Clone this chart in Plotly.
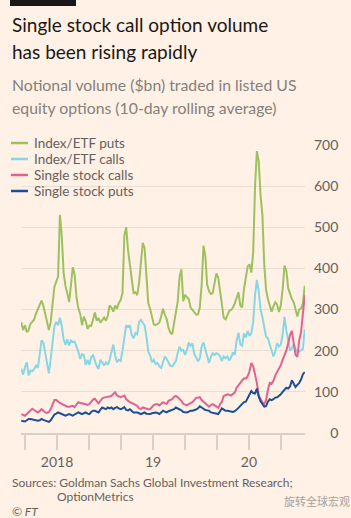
import pandas as pd
import plotly.graph_objects as go

# ---------------- data (weekly readings, $bn) ----------------
start_date = "2017-08-18"
n_weeks = 155

index_etf_puts = [
    269, 250, 262, 245, 250, 266, 270, 276, 290, 302, 312, 322, 310, 290, 270, 250, 270, 315, 355, 368,
    380, 530, 480, 390, 358, 340, 318, 360, 403, 385, 330, 303, 290, 262, 283, 272, 253, 261, 260, 276,
    293, 273, 279, 268, 275, 281, 273, 285, 310, 305, 295,
    310, 302, 316, 323, 340, 480, 500, 445, 410, 362, 340, 342, 335, 365, 425, 462, 450, 380, 315, 302,
    284, 264, 262, 265, 268, 283, 302, 288, 277, 256, 244, 240, 265, 292, 320, 380, 398, 320, 336, 330,
    325, 305, 300, 295, 288, 288, 305, 360, 455, 430, 360, 345,
    338, 340, 365, 388, 378, 345, 318, 280, 276, 289, 297, 299, 305, 315, 331, 342, 310, 305, 350, 380,
    405, 410, 390, 440, 600, 685, 660, 577, 530, 410, 348, 325, 312, 295, 308, 318, 312, 294, 310, 350,
    407, 395, 352, 336, 326, 318, 296, 283, 300, 303, 315, 358,
]

index_etf_calls = [
    156, 142, 160, 172, 140, 152, 150, 155, 164, 158, 190, 225, 220, 196, 175, 145, 180, 225, 260, 270,
    262, 280, 260, 228, 214, 228, 213, 225, 221, 222, 210, 198, 180, 192, 190, 166, 178, 166, 184, 190,
    176, 162, 156, 178, 172, 164, 172, 166, 178, 200, 215,
    188, 172, 178, 175, 200, 230, 262, 258, 262, 238, 230, 243, 240, 270, 275, 268, 262, 235, 198, 188,
    172, 178, 168, 170, 162, 158, 175, 186, 180, 172, 163, 162, 170, 175, 195, 210, 200, 202, 190, 202,
    220, 212, 218, 192, 184, 174, 182, 210, 220, 202, 183, 170,
    185, 194, 190, 194, 192, 186, 175, 186, 182, 186, 176, 184, 196, 190, 225, 244, 215, 212, 242, 232,
    248, 236, 243, 270, 335, 372, 345, 300, 282, 255, 234, 230, 215, 197, 186, 198, 218, 210, 215, 240,
    282, 250, 222, 200, 206, 216, 205, 196, 198, 202, 205, 252,
]

single_stock_calls = [
    46, 44, 42, 46, 50, 56, 59, 56, 53, 50, 53, 58, 54, 50, 49, 51, 58, 68, 80, 80,
    76, 73, 71, 68, 67, 64, 64, 66, 66, 63, 68, 75, 73, 71, 71, 70, 68, 70, 77, 81,
    83, 76, 72, 78, 84, 86, 87, 87, 89, 90, 95,
    99, 91, 88, 87, 89, 91, 82, 78, 75, 73, 71, 68, 66, 60, 58, 62, 60, 58, 58, 58,
    63, 68, 70, 70, 67, 72, 75, 72, 71, 78, 80, 82, 88, 90, 87, 83, 78, 71, 68, 67,
    70, 72, 75, 80, 85, 86, 87, 80, 76, 72, 66, 64,
    68, 70, 67, 64, 61, 70, 76, 90, 92, 94, 93, 91, 95, 98, 110, 115, 122, 128, 133, 132,
    138, 150, 170, 162, 145, 122, 92, 82, 74, 70, 80, 105, 122, 120, 127, 140, 148, 157, 165, 178,
    190, 200, 218, 238, 248, 215, 190, 185, 225, 245, 290, 335,
]

single_stock_puts = [
    30, 29, 28, 31, 34, 34, 33, 31, 30, 30, 31, 34, 32, 30, 28, 27, 31, 38, 45, 47,
    50, 48, 46, 44, 42, 44, 46, 44, 42, 45, 47, 50, 48, 46, 48, 50, 47, 46, 51, 54,
    54, 52, 50, 57, 62, 60, 58, 62, 60, 62, 58,
    61, 63, 60, 58, 60, 63, 56, 55, 58, 55, 50, 50, 50, 48, 46, 48, 50, 47, 46, 46,
    48, 50, 50, 49, 46, 50, 54, 52, 50, 53, 55, 56, 58, 62, 60, 58, 55, 51, 50, 50,
    52, 54, 54, 55, 57, 60, 65, 62, 58, 56, 55, 54,
    50, 49, 47, 46, 46, 53, 60, 57, 54, 54, 53, 51, 51, 53, 56, 61, 66, 72, 75, 76,
    84, 93, 102, 97, 96, 108, 88, 77, 69, 64, 65, 76, 82, 80, 82, 86, 87, 90, 94, 100,
    105, 110, 108, 113, 128, 120, 112, 117, 122, 130, 143, 148,
]

series_names = ["Index/ETF puts", "Index/ETF calls", "Single stock calls", "Single stock puts"]
series_values = [index_etf_puts, index_etf_calls, single_stock_calls, single_stock_puts]
series_colors = ["#9dc15e", "#86d7e6", "#e0628f", "#1d4e96"]

x_tick_vals = ["2017-09-01", "2018-01-01", "2018-05-01", "2018-09-01", "2019-01-01",
               "2019-05-01", "2019-09-01", "2020-01-01", "2020-05-01"]
x_tick_text = ["", "2018", "", "", "19", "", "", "20", ""]
y_tick_vals = [0, 100, 200, 300, 400, 500, 600, 700]
y_tick_text = ["\u2007\u20070", "100", "200", "300", "400", "500", "600", "700"]

dates = pd.date_range(start_date, periods=n_weeks, freq="7D")

# ---------------- layout helpers ----------------
W, H = 351, 518
L, R, T, B = 21, 46, 145, 85
PW, PH = W - L - R, H - T - B
BG = "#fff1e5"
FONT = "Lato"
GREY = "#66605c"


def fx(p):
    return (p - L) / PW


def fy(p):
    return (H - B - p) / PH


fig = go.Figure()
for name, vals, col in zip(series_names, series_values, series_colors):
    fig.add_trace(go.Scatter(x=dates, y=vals, mode="lines", name=name,
                             line=dict(color=col, width=2), showlegend=False))

annotations = [
    dict(text="Single stock call option volume", x=fx(10), y=fy(25), size=19, color="#1a1817"),
    dict(text="has been rising rapidly", x=fx(10), y=fy(52), size=19, color="#1a1817"),
    dict(text="Notional volume ($bn) traded in listed US", x=fx(10), y=fy(84), size=15.8, color="#86807b"),
    dict(text="equity options (10-day rolling average)", x=fx(10), y=fy(107), size=15.8, color="#86807b"),
    dict(text="Sources: Goldman Sachs Global Investment Research;", x=fx(10), y=fy(482), size=12, color=GREY),
    dict(text="OptionMetrics", x=fx(55), y=fy(496), size=12, color=GREY),
    dict(text="<i>© FT</i>", x=fx(10), y=fy(511), size=12, color=GREY),
]
ann_objs = []
for a in annotations:
    ann_objs.append(dict(text=a["text"], x=a["x"], y=a["y"], xref="paper", yref="paper",
                         xanchor="left", yanchor="middle", showarrow=False,
                         font=dict(family=FONT, size=a["size"], color=a["color"])))
ann_objs.append(dict(text="旋转全球宏观", x=fx(282), y=fy(501), xref="paper", yref="paper",
                     xanchor="left", yanchor="middle", showarrow=False,
                     font=dict(family="Noto Sans CJK SC", size=11, color="#a9a29b")))

shapes = [
    # FT black bar
    dict(type="rect", xref="paper", yref="paper", x0=fx(10), x1=fx(76), y0=fy(6), y1=fy(0),
         fillcolor="#1a1817", line=dict(width=0)),
    # legend area mask over gridlines
    dict(type="rect", xref="paper", yref="paper", x0=fx(19), x1=fx(170), y0=fy(200), y1=fy(138),
         fillcolor=BG, line=dict(width=0), layer="between"),
]

# legend keys (built from series names/colours)
legend_y = [143, 159, 175, 191]
for name, col, ly in zip(series_names, series_colors, legend_y):
    shapes.append(dict(type="line", xref="paper", yref="paper", x0=fx(11), x1=fx(28),
                       y0=fy(ly), y1=fy(ly), line=dict(color=col, width=2.5)))
    ann_objs.append(dict(text=name, x=fx(32), y=fy(ly), xref="paper", yref="paper",
                         xanchor="left", yanchor="middle", showarrow=False,
                         font=dict(family=FONT, size=13.5, color=GREY)))

fig.update_layout(
    width=W, height=H,
    margin=dict(l=L, r=R, t=T, b=B, autoexpand=False),
    paper_bgcolor=BG, plot_bgcolor=BG,
    font=dict(family=FONT, color=GREY),
    showlegend=False,
    annotations=ann_objs,
    shapes=shapes,
    xaxis=dict(range=["2017-08-17", "2020-08-01"], tickvals=x_tick_vals, ticktext=x_tick_text,
               showgrid=False, zeroline=False, showline=True, linecolor="#d8cfc6", linewidth=2,
               ticks="outside", ticklen=15, tickwidth=2, tickcolor="#d8cfc6",
               tickfont=dict(family=FONT, size=14, color=GREY), fixedrange=True),
    yaxis=dict(range=[0, 700], side="right", tickvals=y_tick_vals, ticktext=y_tick_text,
               showgrid=True, gridcolor="#e8ddd2", gridwidth=1.2, zeroline=False, showline=False,
               ticks="", ticklabelstandoff=8,
               tickfont=dict(family=FONT, size=14, color=GREY), fixedrange=True),
)

fig.write_html("out.html")
